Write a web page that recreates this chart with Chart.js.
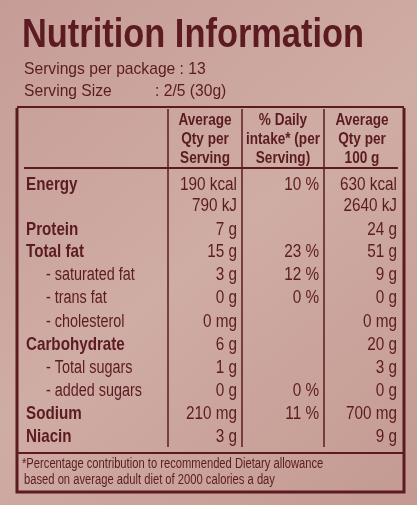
<!DOCTYPE html><html><head><meta charset="utf-8">
<script src="https://cdn.jsdelivr.net/npm/chart.js@4"></script>
<style>html,body{margin:0;padding:0;background:#c9a39b;}#c{display:block}</style></head><body>
<div style="width:417px;height:505px"><canvas id="c" width="417" height="505"></canvas></div>
<script>
const title = "Nutrition Information";
const servingLines = ["Servings per package : 13", "Serving Size", ": 2/5 (30g)"];
const headers = [["Average","Qty per","Serving"],["% Daily","intake* (per","Serving)"],["Average","Qty per","100 g"]];
const rowLabels = ["Energy","","Protein","Total fat","- saturated fat","- trans fat","- cholesterol","Carbohydrate","- Total sugars","- added sugars","Sodium","Niacin"];
const boldRows = [true,false,true,true,false,false,false,true,false,false,true,true];
const perServing = ["190 kcal","790 kJ","7 g","15 g","3 g","0 g","0 mg","6 g","1 g","0 g","210 mg","3 g"];
const dailyIntake = ["10 %","","","23 %","12 %","0 %","","","","0 %","11 %",""];
const per100g = ["630 kcal","2640 kJ","24 g","51 g","9 g","0 g","0 mg","20 g","3 g","0 g","700 mg","9 g"];
const footnote = ["*Percentage contribution to recommended Dietary allowance","based on average adult diet of 2000 calories a day"];
const rowY = [185,206,230,252,275,298,322,345,368,391,414,437];

const ink = "#5b1b20";
const F = '"Liberation Sans",Arial,sans-serif';
function txt(c,t,x,y,align,font,sx){
  c.save(); c.translate(x,y); c.scale(sx,1); c.font=font; c.textAlign=align; c.fillText(t,0,0); c.restore();
}
const tablePlugin = {
  id:'table',
  beforeDraw(chart){
    const c = chart.ctx;
    c.save();
    const g = c.createLinearGradient(0,0,417,505);
    g.addColorStop(0,'#c69d96'); g.addColorStop(0.5,'#cfaca4'); g.addColorStop(1,'#c49a92');
    c.fillStyle = g; c.fillRect(0,0,417,505);
    c.fillStyle = ink; c.textBaseline='middle';
    txt(c,title,22,36,'left','bold 40px '+F,0.86);
    txt(c,servingLines[0],24,69,'left','17px '+F,0.92);
    txt(c,servingLines[1],24,91,'left','17px '+F,0.92);
    txt(c,servingLines[2],155,91,'left','17px '+F,0.92);
    c.strokeStyle = ink;
    c.lineWidth = 3;
    c.beginPath(); c.moveTo(17,108); c.lineTo(17,492); c.lineTo(404,492); c.lineTo(404,108); c.stroke();
    c.lineWidth = 2;
    c.beginPath(); c.moveTo(17,107); c.lineTo(404,107); c.stroke();
    c.beginPath(); c.moveTo(24,168); c.lineTo(398,168); c.stroke();
    c.beginPath(); c.moveTo(17,453); c.lineTo(404,453); c.stroke();
    c.lineWidth = 1.5;
    [168,242,324].forEach(x=>{c.beginPath(); c.moveTo(x,109); c.lineTo(x,447); c.stroke();});
    const hx=[205,283,362];
    headers.forEach((h,i)=>h.forEach((t,j)=>txt(c,t,hx[i],120+j*19,'center','bold 17px '+F,0.8)));
    rowLabels.forEach((l,i)=>{
      const sub = l.startsWith('-');
      txt(c,l,sub?46:26,rowY[i],'left',(boldRows[i]?'bold 19px ':'18px ')+F,0.8);
      const f='18px '+F;
      txt(c,perServing[i],237,rowY[i],'right',f,0.85);
      txt(c,dailyIntake[i],319,rowY[i],'right',f,0.85);
      txt(c,per100g[i],397,rowY[i],'right',f,0.85);
    });
    txt(c,footnote[0],22,464,'left','14px '+F,0.8);
    txt(c,footnote[1],24,480,'left','14px '+F,0.8);
    c.restore();
  }
};
new Chart(document.getElementById('c'),{
  type:'bar',
  data:{labels:rowLabels,datasets:[{data:[],backgroundColor:'transparent'}]},
  options:{responsive:false,animation:false,plugins:{legend:{display:false},tooltip:{enabled:false}},
    scales:{x:{display:false},y:{display:false}}},
  plugins:[tablePlugin]
});
</script></body></html>
